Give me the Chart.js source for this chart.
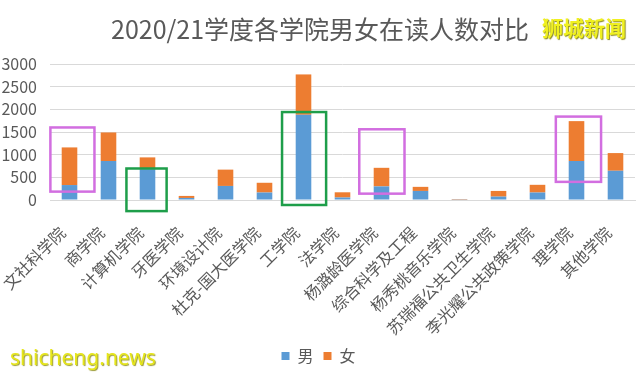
<!DOCTYPE html>
<html>
<head>
<meta charset="utf-8">
<script src="https://cdn.jsdelivr.net/npm/chart.js@4"></script>
<style>
  body { margin: 0; background: #fff; }
  #wrap { position: relative; width: 640px; height: 374px; }
  #title { position: absolute; left: 111px; top: 10px; font: 25px "Noto Sans CJK SC", sans-serif; color: #595959; white-space: nowrap; }
  #mark1 { position: absolute; left: 542px; top: 12px; font: bold 21px "Noto Sans CJK SC", sans-serif; color: #f0f020; text-shadow: 1px 1px 1px #8a8a20; }
  #mark2 { position: absolute; left: 10px; top: 343px; font: 21px "Noto Sans", sans-serif; color: #e6e61a; text-shadow: 1px 1px 1px #9a9a30; }
</style>
</head>
<body>
<div id="wrap">
  <canvas id="c" width="640" height="374"></canvas>
  <div id="title">2020/21学度各学院男女在读人数对比</div>
  <div id="mark1">狮城新闻</div>
  <div id="mark2">shicheng.news</div>
</div>
<script>
// data
const schools = ['文社科学院', '商学院', '计算机学院', '牙医学院', '环境设计院', '杜克-国大医学院', '工学院', '法学院',
  '杨潞龄医学院', '综合科学及工程', '杨秀桃音乐学院', '苏瑞福公共卫生学院', '李光耀公共政策学院', '理学院', '其他学院'];
const male   = [330, 860, 680, 45, 310, 165, 1880, 55, 300, 200, 6, 75, 165, 860, 645];
const female = [830, 630, 260, 45, 360, 215, 890, 115, 410, 90, 10, 125, 170, 880, 390];

// highlight boxes drawn over the chart: category index, left/right in category widths, value top/bottom, colour
const boxCat = [0, 2, 6, 8, 13];
const boxLeft = [-0.49, -0.54, -0.55, -0.57, -0.53];
const boxRight = [0.64, 0.49, 0.58, 0.59, 0.63];
const boxTop = [1600, 695, 1940, 1560, 1840];
const boxBottom = [185, -245, -110, 140, 400];
const boxColor = ['#d26ee0', '#1e9e4a', '#1e9e4a', '#d26ee0', '#d26ee0'];

const grey = '#595959';
const font = { family: '"Noto Sans CJK SC", sans-serif', size: 16 };

const boxes = {
  id: 'boxes',
  afterDatasetsDraw(chart) {
    const ctx = chart.ctx, x = chart.scales.x, y = chart.scales.y;
    const step = x.width / schools.length;
    ctx.save();
    ctx.lineWidth = 2.5;
    boxCat.forEach((c, i) => {
      const cx = x.getPixelForValue(c);
      const top = y.getPixelForValue(boxTop[i]);
      const bot = y.getPixelForValue(boxBottom[i]);
      ctx.strokeStyle = boxColor[i];
      ctx.strokeRect(cx + boxLeft[i] * step, top, (boxRight[i] - boxLeft[i]) * step, bot - top);
    });
    ctx.restore();
  }
};

new Chart(document.getElementById('c'), {
  type: 'bar',
  data: {
    labels: schools,
    datasets: [
      { label: '男', data: male, backgroundColor: '#5b9bd5', barPercentage: 0.4, categoryPercentage: 1 },
      { label: '女', data: female, backgroundColor: '#ed7d31', barPercentage: 0.4, categoryPercentage: 1 }
    ]
  },
  options: {
    responsive: false,
    animation: false,
    layout: { padding: { top: 64, right: 5, left: 2, bottom: 0 } },
    scales: {
      x: {
        stacked: true,
        grid: { display: false },
        border: { color: '#d9d9d9' },
        ticks: { color: grey, font: font, minRotation: 45, maxRotation: 45, autoSkip: false, padding: 15, labelOffset: -7 },
        afterFit: s => { s.paddingLeft = 0; s.paddingRight = 0; s.height = 138; }
      },
      y: {
        stacked: true,
        min: 0, max: 3000,
        ticks: { stepSize: 500, autoSkip: false, color: grey, font: font, padding: 13, callback: v => String(v) },
        grid: { color: '#d9d9d9', drawTicks: false },
        border: { display: false },
        afterFit: s => { s.width = 48; }
      }
    },
    plugins: {
      legend: {
        position: 'bottom',
        labels: { color: grey, font: font, boxWidth: 8, boxHeight: 8, padding: 10 }
      },
      tooltip: { enabled: false }
    }
  },
  plugins: [boxes]
});
</script>
</body>
</html>
